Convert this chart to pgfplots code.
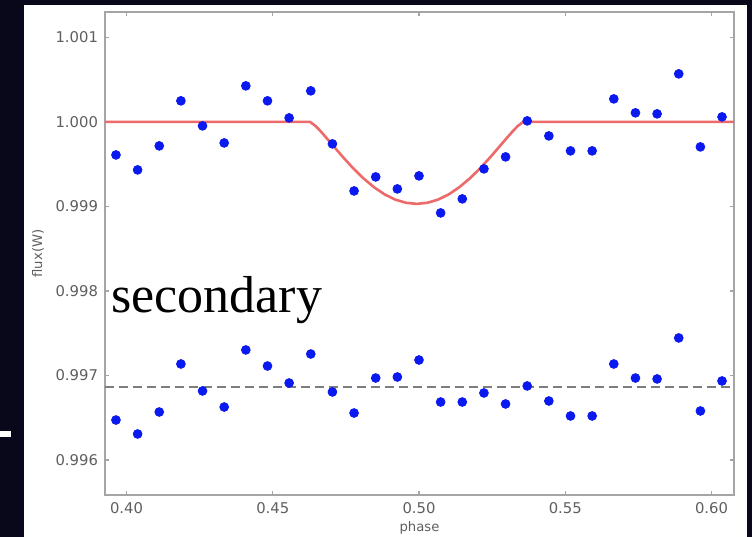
\documentclass[border=0pt]{standalone}
\usepackage{fontspec}
\setmainfont{DejaVu Sans}
\newfontfamily\serifB{Liberation Serif}
\usepackage{pgfplots}
\pgfplotsset{compat=1.18}
\definecolor{bg}{RGB}{8,8,26}
\definecolor{ptblue}{RGB}{10,25,240}
\definecolor{fitred}{RGB}{238,105,105}
\definecolor{framec}{RGB}{165,165,165}
\definecolor{lbl}{RGB}{95,95,95}
\definecolor{dashc}{RGB}{125,125,125}

\begin{document}
\begin{tikzpicture}
\useasboundingbox (0pt,0pt) rectangle (376pt,268.5pt);
\fill[bg] (0pt,0pt) rectangle (376pt,268.5pt);
\fill[white] (12pt,0pt) rectangle (373.5pt,266pt);
\fill[white] (0pt,50pt) rectangle (5.5pt,53pt);
\begin{axis}[
  at={(52.5pt,21pt)}, anchor=south west,
  scale only axis, width=314.5pt, height=241.5pt,
  xmin=0.39265, xmax=0.60769, ymin=0.995586, ymax=1.0013,
  axis line style={framec, line width=1.1pt},
  tick align=inside, major tick length=2.2pt,
  tick style={framec, line width=0.6pt},
  xtick={0.40,0.45,0.50,0.55,0.60},
  xticklabels={0.40,0.45,0.50,0.55,0.60},
  ytick={0.996,0.997,0.998,0.999,1.000,1.001},
  yticklabels={0.996,0.997,0.998,0.999,1.000,1.001},
  tick label style={font=\fontsize{7.4}{8}\selectfont, text=lbl},
  xlabel={phase}, ylabel={flux(W)},
  label style={font=\fontsize{6.6}{7}\selectfont, text=lbl},
  xlabel style={at={(axis description cs:0.5,-0.0683)}, anchor=center},
  ylabel style={at={(axis description cs:-0.1065,0.5)}, anchor=center},
  scaled ticks=false,
]
\addplot[fitred, line width=1.3pt, no marks] coordinates {
(0.39265,1.0) (0.46275,1.0) (0.46457,0.999953) (0.46640,0.999888)
(0.47004,0.999743) (0.47369,0.999596) (0.47733,0.999457) (0.48098,0.999333)
(0.48462,0.999227) (0.48827,0.999142) (0.49191,0.99908) (0.49556,0.999043)
(0.49920,0.99903) (0.50285,0.999043) (0.50649,0.99908) (0.51014,0.999142)
(0.51378,0.999227) (0.51743,0.999333) (0.52107,0.999457) (0.52472,0.999596)
(0.52836,0.999743) (0.53201,0.999888) (0.53383,0.999953) (0.53565,1.0)
(0.60769,1.0)};
\addplot[dashc, line width=0.9pt, dash pattern=on 4.5pt off 2.5pt, no marks] coordinates {
(0.39265,0.996864) (0.60769,0.996864)};
\addplot[only marks, mark=*, mark size=2.2pt, mark options={draw=ptblue, fill=ptblue}] coordinates {
(0.3964,0.999609) (0.4038,0.999432) (0.4112,0.999716) (0.4186,1.000249)
(0.4260,0.999953) (0.4334,0.999751) (0.4408,1.000426) (0.4482,1.000249)
(0.4556,1.000047) (0.4630,1.000367) (0.4704,0.999740) (0.4778,0.999183)
(0.4852,0.999349) (0.4926,0.999207) (0.5000,0.999361) (0.5074,0.998923)
(0.5148,0.999089) (0.5222,0.999444) (0.5296,0.999586) (0.5370,1.000012)
(0.5444,0.999834) (0.5518,0.999657) (0.5592,0.999657) (0.5666,1.000272)
(0.5740,1.000107) (0.5814,1.000095) (0.5888,1.000568) (0.5962,0.999704)
(0.6036,1.000059)};
\addplot[only marks, mark=*, mark size=2.2pt, mark options={draw=ptblue, fill=ptblue}] coordinates {
(0.3964,0.996473) (0.4038,0.996308) (0.4112,0.996568) (0.4186,0.997136)
(0.4260,0.996817) (0.4334,0.996627) (0.4408,0.997302) (0.4482,0.997112)
(0.4556,0.996911) (0.4630,0.997254) (0.4704,0.996805) (0.4778,0.996556)
(0.4852,0.996970) (0.4926,0.996982) (0.5000,0.997183) (0.5074,0.996686)
(0.5148,0.996686) (0.5222,0.996793) (0.5296,0.996663) (0.5370,0.996876)
(0.5444,0.996698) (0.5518,0.996521) (0.5592,0.996521) (0.5666,0.997136)
(0.5740,0.996970) (0.5814,0.996959) (0.5888,0.997444) (0.5962,0.996580)
(0.6036,0.996935)};
\end{axis}
\node[anchor=base west, inner sep=0pt, font=\serifB\fontsize{26}{30}\selectfont] at (55.5pt,112pt) {secondary};
\end{tikzpicture}
\end{document}
